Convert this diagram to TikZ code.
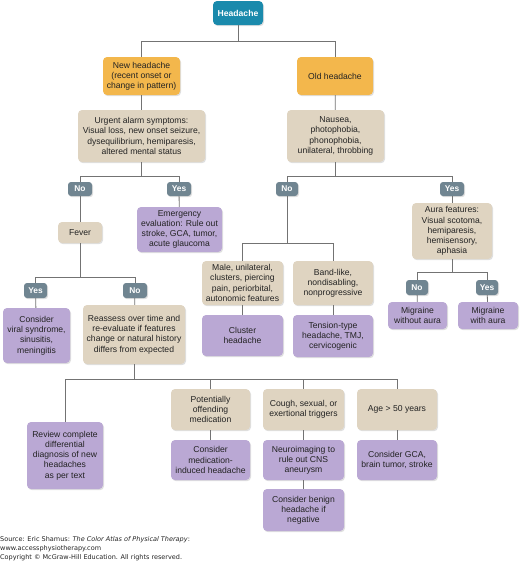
\documentclass[tikz,border=0pt]{standalone}
\usepackage{fontspec}
\setmainfont{Liberation Sans}
\newfontfamily\srcfont{DejaVu Sans}
\usetikzlibrary{shadows}
\definecolor{cteal}{RGB}{26,138,172}
\definecolor{corange}{RGB}{243,183,76}
\definecolor{cbeige}{RGB}{223,212,193}
\definecolor{cpurple}{RGB}{186,168,212}
\definecolor{cgray}{RGB}{112,133,145}
\definecolor{cline}{RGB}{115,115,115}
\definecolor{ctext}{RGB}{35,35,35}
\begin{document}
\begin{tikzpicture}[x=1pt,y=-1pt,
  base/.style={rounded corners=4pt, align=center, inner sep=0pt, text=ctext,
    font=\fontsize{8.6}{10.2}\selectfont,
    drop shadow={shadow xshift=1pt, shadow yshift=-1.2pt, opacity=0.25}},
  tealbox/.style={base, fill=cteal, text=white, font=\fontsize{8.6}{10}\selectfont\bfseries},
  orangebox/.style={base, fill=corange},
  beigebox/.style={base, fill=cbeige},
  purplebox/.style={base, fill=cpurple},
  ansbox/.style={base, fill=cgray, text=white, rounded corners=3pt, font=\fontsize{8.4}{9}\selectfont\bfseries},
  sz/.style 2 args={minimum width=#1pt, minimum height=#2pt},
  conn/.style={draw=cline, line width=0.8pt},
  srctext/.style={anchor=west, inner sep=0pt, text=ctext, font=\srcfont\fontsize{6.5}{7}\selectfont}
]
\useasboundingbox (0,0) rectangle (520,562);
% top
\node[tealbox, sz={50}{24}] (head) at (238,13) {Headache};
\node[orangebox, sz={77}{38}] (new) at (141.5,76) {New headache\\(recent onset or\\change in pattern)};
\node[orangebox, sz={76}{38}] (old) at (335,76) {Old headache};
\node[beigebox, sz={127}{52}] (urg) at (141.5,136) {Urgent alarm symptoms:\\Visual loss, new onset seizure,\\dysequilibrium, hemiparesis,\\altered mental status};
\node[beigebox, sz={97}{52}] (naus) at (335.5,136) {Nausea,\\photophobia,\\phonophobia,\\unilateral, throbbing};
% answers level 1
\node[ansbox, sz={24}{14}] (no1) at (80,189) {No};
\node[ansbox, sz={24}{14}] (yes1) at (179,189) {Yes};
\node[ansbox, sz={22}{14}] (no2) at (287,189) {No};
\node[ansbox, sz={24}{14}] (yes2) at (452,189) {Yes};
% level 2
\node[purplebox, sz={85}{45}] (emerg) at (179.5,229.5) {Emergency\\evaluation: Rule out\\stroke, GCA, tumor,\\acute glaucoma};
\node[beigebox, sz={44}{21}] (fever) at (80,232.5) {Fever};
\node[ansbox, sz={23}{15}] (yes3) at (35.5,290.5) {Yes};
\node[ansbox, sz={24}{15}] (no3) at (135,290.5) {No};
\node[purplebox, sz={67}{55}] (viral) at (36.5,335.5) {Consider\\viral syndrome,\\sinusitis,\\meningitis};
\node[beigebox, sz={102}{59}] (reass) at (134,334.5) {Reassess over time and\\re-evaluate if features\\change or natural history\\differs from expected};
\node[beigebox, sz={81}{44}] (male) at (242.5,283) {Male, unilateral,\\clusters, piercing\\pain, periorbital,\\autonomic features};
\node[beigebox, sz={80}{44}] (band) at (333,283) {Band-like,\\nondisabling,\\nonprogressive};
\node[purplebox, sz={81}{41}] (cluster) at (242.5,335.5) {Cluster\\headache};
\node[purplebox, sz={80}{42}] (tension) at (333,336) {Tension-type\\headache, TMJ,\\cervicogenic};
\node[beigebox, sz={80}{56}] (aura) at (452,231) {Aura features:\\Visual scotoma,\\hemiparesis,\\hemisensory,\\aphasia};
\node[ansbox, sz={22}{15}] (no4) at (417,287.5) {No};
\node[ansbox, sz={22}{15}] (yes4) at (487,287.5) {Yes};
\node[purplebox, sz={59}{27}] (migno) at (417.5,315.5) {Migraine\\without aura};
\node[purplebox, sz={60}{27}] (migyes) at (488,315.5) {Migraine\\with aura};
% bottom
\node[purplebox, sz={76}{67}] (review) at (65,455.5) {Review complete\\differential\\diagnosis of new\\headaches\\as per text};
\node[beigebox, sz={79}{41}] (potent) at (210.5,409.5) {Potentially\\offending\\medication};
\node[purplebox, sz={79}{40}] (consmed) at (210.5,460) {Consider\\medication-\\induced headache};
\node[beigebox, sz={81}{41}] (cough) at (303.5,409.5) {Cough, sexual, or\\exertional triggers};
\node[purplebox, sz={81}{40}] (neuro) at (303.5,460) {Neuroimaging to\\rule out CNS\\aneurysm};
\node[purplebox, sz={81}{42}] (benign) at (303.5,510) {Consider benign\\headache if\\negative};
\node[beigebox, sz={80}{41}] (age) at (397,409.5) {Age > 50 years};
\node[purplebox, sz={80}{40}] (gca) at (397,460) {Consider GCA,\\brain tumor, stroke};
% junctions
\coordinate (j1) at (238,41);
\coordinate (j2) at (141.5,176);
\coordinate (j3) at (335.5,176);
\coordinate (j4) at (80,277);
\coordinate (j5) at (134,379);
\coordinate (j6) at (287,243);
\coordinate (j7) at (452,272);
% connectors
\draw[conn] (head) -- (j1);
\draw[conn] (j1) -| (new.north);
\draw[conn] (j1) -| (old.north);
\draw[conn] (new) -- (urg);
\draw[conn] (old) -- (naus);
\draw[conn] (urg) -- (j2);
\draw[conn] (j2) -| (no1.north);
\draw[conn] (j2) -| (yes1.north);
\draw[conn] (naus) -- (j3);
\draw[conn] (j3) -| (no2.north);
\draw[conn] (j3) -| (yes2.north);
\draw[conn] (no1) -- (fever);
\draw[conn] (yes1) -- (emerg);
\draw[conn] (fever) -- (j4);
\draw[conn] (j4) -| (yes3.north);
\draw[conn] (j4) -| (no3.north);
\draw[conn] (yes3) -- (viral);
\draw[conn] (no3) -- (reass);
\draw[conn] (reass) -- (j5);
\draw[conn] (j5) -| (review.north);
\draw[conn] (j5) -| (potent.north);
\draw[conn] (j5) -| (cough.north);
\draw[conn] (j5) -| (age.north);
\draw[conn] (potent) -- (consmed);
\draw[conn] (cough) -- (neuro);
\draw[conn] (neuro) -- (benign);
\draw[conn] (age) -- (gca);
\draw[conn] (no2) -- (j6);
\draw[conn] (j6) -| (male.north);
\draw[conn] (j6) -| (band.north);
\draw[conn] (male) -- (cluster);
\draw[conn] (band) -- (tension);
\draw[conn] (yes2) -- (aura);
\draw[conn] (aura) -- (j7);
\draw[conn] (j7) -| (no4.north);
\draw[conn] (j7) -| (yes4.north);
\draw[conn] (no4) -- (migno);
\draw[conn] (yes4) -- (migyes);
% source
\node[srctext] (src1) at (0,540) {Source: Eric Shamus: \textit{The Color Atlas of Physical Therapy}:};
\node[srctext] (src2) at (0,549) {www.accessphysiotherapy.com};
\node[srctext] (src3) at (0,558) {Copyright © McGraw-Hill Education. All rights reserved.};
\end{tikzpicture}
\end{document}
